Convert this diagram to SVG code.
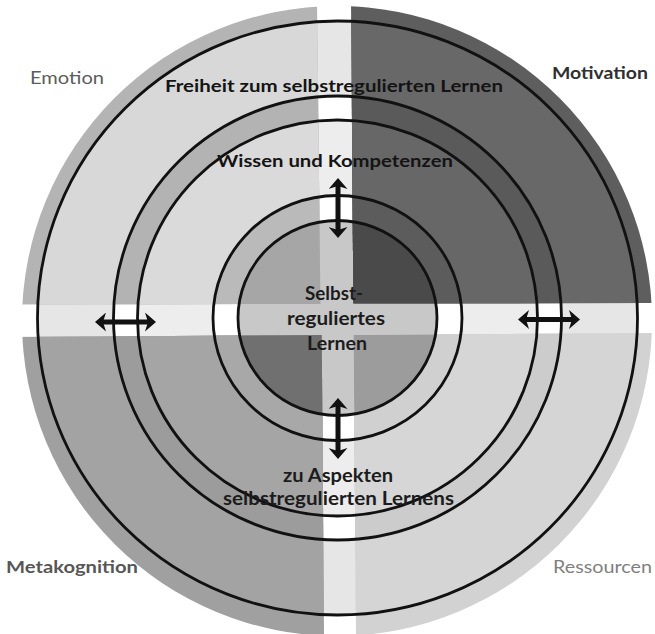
<svg xmlns="http://www.w3.org/2000/svg" width="655" height="634" viewBox="0 0 655 634">
<style>
.ring{fill:none;stroke:#111;stroke-width:2.8}
.lbl{font-family:Lato,"Open Sans","Liberation Sans",sans-serif;font-weight:bold;font-size:17px;fill:#141414}
.ctr{font-family:Lato,"Open Sans","Liberation Sans",sans-serif;font-weight:bold;font-size:18px;fill:#1c1c1c}
.corner{font-family:Lato,"Open Sans","Liberation Sans",sans-serif;font-size:17px}
.arrow{stroke:#111;stroke-width:5;fill:none;marker-start:url(#ah);marker-end:url(#ah)}
</style>
<defs>
<marker id="ah" markerUnits="userSpaceOnUse" viewBox="0 0 11 19" refX="3" refY="9.5" markerWidth="11" markerHeight="19" orient="auto-start-reverse">
<path d="M0,0 L11,9.5 L0,19 L3,9.5 z" fill="#111"/>
</marker>
<clipPath id="qTL"><polygon points="0,0 317,0 320.4,304 0,304.5"/></clipPath>
<clipPath id="qTR"><polygon points="351,0 655,0 655,303 353.4,303.3"/></clipPath>
<clipPath id="qBL"><polygon points="0,337 321.7,335 324,634 0,634"/></clipPath>
<clipPath id="qBR"><polygon points="353.6,335 655,333 655,634 356,634"/></clipPath>
</defs>
<rect width="655" height="634" fill="#ffffff"/>
<g id="gap-layer">
<ellipse cx="337.5" cy="318" rx="300" ry="297" fill="#e6e6e6"/>
<ellipse cx="337.5" cy="318" rx="224" ry="222" fill="#ffffff"/>
<ellipse cx="337.5" cy="318" rx="200" ry="198" fill="#ededed"/>
<ellipse cx="337.5" cy="318" rx="124.5" ry="122.5" fill="#ffffff"/>
<ellipse cx="337.5" cy="318" rx="99.5" ry="97.5" fill="#c8c8c8"/>
</g>
<g id="quadrant-emotion" clip-path="url(#qTL)">
<circle cx="337" cy="321" r="315" fill="#b4b4b4"/>
<ellipse cx="337.5" cy="318" rx="300" ry="297" fill="#d8d8d8"/>
<ellipse cx="337.5" cy="318" rx="224" ry="222" fill="#b3b3b3"/>
<ellipse cx="337.5" cy="318" rx="200" ry="198" fill="#dadada"/>
<ellipse cx="337.5" cy="318" rx="124.5" ry="122.5" fill="#bababa"/>
<ellipse cx="337.5" cy="318" rx="99.5" ry="97.5" fill="#a6a6a6"/>
</g>
<g id="quadrant-motivation" clip-path="url(#qTR)">
<circle cx="337" cy="321" r="315" fill="#5e5e5e"/>
<ellipse cx="337.5" cy="318" rx="300" ry="297" fill="#686868"/>
<ellipse cx="337.5" cy="318" rx="224" ry="222" fill="#5a5a5a"/>
<ellipse cx="337.5" cy="318" rx="200" ry="198" fill="#676767"/>
<ellipse cx="337.5" cy="318" rx="124.5" ry="122.5" fill="#5c5c5c"/>
<ellipse cx="337.5" cy="318" rx="99.5" ry="97.5" fill="#4a4a4a"/>
</g>
<g id="quadrant-metakognition" clip-path="url(#qBL)">
<circle cx="337" cy="321" r="315" fill="#a0a0a0"/>
<ellipse cx="337.5" cy="318" rx="300" ry="297" fill="#a3a3a3"/>
<ellipse cx="337.5" cy="318" rx="224" ry="222" fill="#9c9c9c"/>
<ellipse cx="337.5" cy="318" rx="200" ry="198" fill="#a5a5a5"/>
<ellipse cx="337.5" cy="318" rx="124.5" ry="122.5" fill="#a8a8a8"/>
<ellipse cx="337.5" cy="318" rx="99.5" ry="97.5" fill="#707070"/>
</g>
<g id="quadrant-ressourcen" clip-path="url(#qBR)">
<circle cx="337" cy="321" r="315" fill="#d2d2d2"/>
<ellipse cx="337.5" cy="318" rx="300" ry="297" fill="#d5d5d5"/>
<ellipse cx="337.5" cy="318" rx="224" ry="222" fill="#cccccc"/>
<ellipse cx="337.5" cy="318" rx="200" ry="198" fill="#d6d6d6"/>
<ellipse cx="337.5" cy="318" rx="124.5" ry="122.5" fill="#d0d0d0"/>
<ellipse cx="337.5" cy="318" rx="99.5" ry="97.5" fill="#9c9c9c"/>
</g>
<g id="rings">
<ellipse class="ring" cx="337.5" cy="318" rx="300" ry="297"/>
<ellipse class="ring" cx="337.5" cy="318" rx="224" ry="222"/>
<ellipse class="ring" cx="337.5" cy="318" rx="200" ry="198"/>
<ellipse class="ring" cx="337.5" cy="318" rx="124.5" ry="122.5"/>
<ellipse class="ring" cx="337.5" cy="318" rx="99.5" ry="97.5"/>
</g>
<g id="connectors">
<line class="arrow" x1="338" y1="186" x2="338" y2="230"/>
<line class="arrow" x1="338" y1="406" x2="338" y2="451"/>
<line class="arrow" x1="103" y1="322" x2="148" y2="322"/>
<line class="arrow" x1="526" y1="319.5" x2="572" y2="319.5"/>
</g>
<g id="node-freiheit">
<text class="lbl" x="165" y="92" textLength="338" lengthAdjust="spacingAndGlyphs">Freiheit zum selbstregulierten Lernen</text>
</g>
<g id="node-wissen">
<text class="lbl" x="217" y="167" textLength="236" lengthAdjust="spacingAndGlyphs">Wissen und Kompetenzen</text>
</g>
<g id="node-center">
<text class="ctr" x="305" y="300" textLength="58" lengthAdjust="spacingAndGlyphs">Selbst-</text>
<text class="ctr" x="287" y="325" textLength="98" lengthAdjust="spacingAndGlyphs">reguliertes</text>
<text class="ctr" x="307" y="350" textLength="60" lengthAdjust="spacingAndGlyphs">Lernen</text>
</g>
<g id="node-aspekte">
<text class="ctr" x="283" y="482" textLength="110" lengthAdjust="spacingAndGlyphs">zu Aspekten</text>
<text class="ctr" x="223" y="505" textLength="231" lengthAdjust="spacingAndGlyphs">selbstregulierten Lernens</text>
</g>
<g id="node-emotion">
<text class="corner" x="30" y="84" fill="#5c5c5c" textLength="74" lengthAdjust="spacingAndGlyphs">Emotion</text>
</g>
<g id="node-motivation">
<text class="corner" x="552" y="79" fill="#303030" font-weight="bold" font-size="18" textLength="96" lengthAdjust="spacingAndGlyphs">Motivation</text>
</g>
<g id="node-metakognition">
<text class="corner" x="6" y="573" fill="#575757" font-weight="bold" textLength="132" lengthAdjust="spacingAndGlyphs">Metakognition</text>
</g>
<g id="node-ressourcen">
<text class="corner" x="553" y="573" fill="#808080" textLength="99" lengthAdjust="spacingAndGlyphs">Ressourcen</text>
</g>
</svg>
